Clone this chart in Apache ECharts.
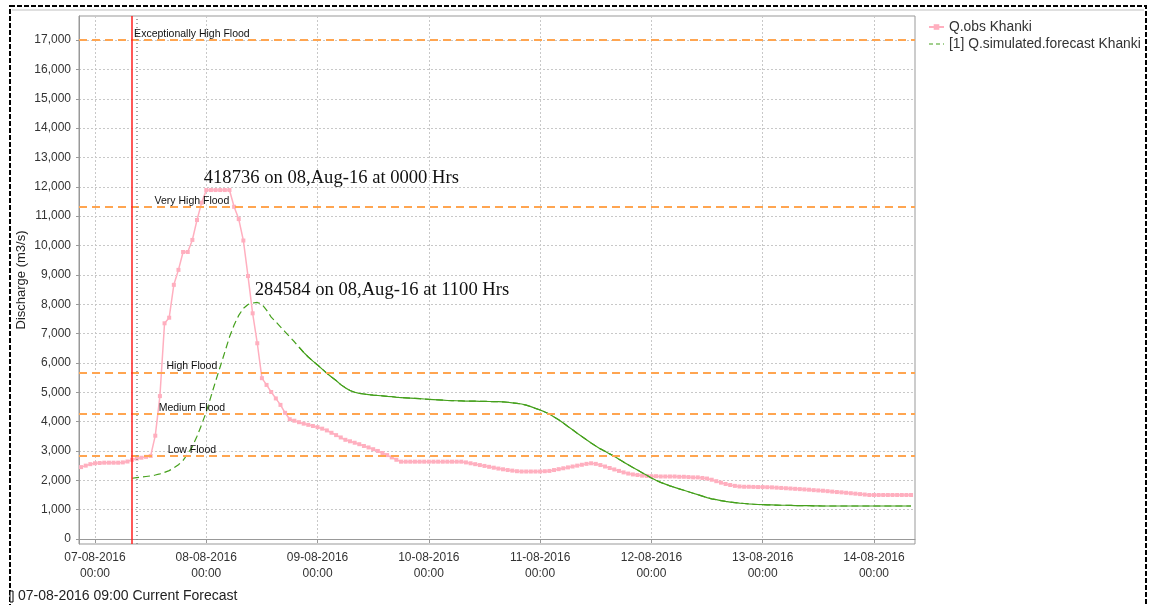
<!DOCTYPE html>
<html>
<head>
<meta charset="utf-8">
<title>Khanki discharge</title>
<script src="https://cdn.jsdelivr.net/npm/echarts@6/dist/echarts.min.js"></script>
<style>
  html, body { margin: 0; padding: 0; background: #fff; }
  #main { width: 1154px; height: 605px; }
</style>
</head>
<body>
<div id="main"></div>
<script>
  // hourly values, hour 0 = 07-08-2016 00:00
  var obsStartHour = -3;
  var obsValues = [
    2450, 2500, 2550,
    2580, 2590, 2600, 2600, 2600, 2600,
    2610, 2640, 2700, 2740, 2770, 2800, 2830,
    3520, 4870, 7350, 7540, 8660, 9170, 9780, 9780, 10190, 10870, 11460, 11890,
    11890, 11890, 11890, 11890, 11890,
    11320, 10900, 10170, 8960, 7690, 6670, 5480, 5250, 5010, 4790, 4570, 4300, 4080,
    4030, 3980, 3930, 3890, 3850, 3810,
    3760, 3700, 3620, 3540, 3460, 3380, 3330, 3280, 3230, 3170, 3120, 3060, 3000, 2930, 2860, 2780, 2700,
    2635, 2635, 2635, 2635, 2635, 2635, 2635, 2635, 2635, 2635, 2635, 2635, 2635, 2635,
    2610, 2580, 2550, 2520, 2490, 2460, 2430, 2400,
    2375, 2350, 2330, 2310,
    2300, 2300, 2300, 2300, 2300, 2310, 2320,
    2350, 2380, 2410, 2440, 2470, 2500, 2530, 2560, 2580,
    2560, 2520, 2470, 2420, 2370, 2320, 2270,
    2230, 2200, 2180, 2160, 2150,
    2140, 2140, 2130, 2130, 2130, 2130, 2120, 2120, 2110, 2100,
    2100, 2080, 2060, 2020, 1970, 1920, 1875, 1840, 1810, 1790,
    1780, 1780, 1775, 1770, 1770, 1765, 1760,
    1750, 1740, 1730, 1720, 1710, 1700, 1690, 1680, 1665, 1655, 1645,
    1630, 1615, 1600, 1590, 1575, 1560, 1545, 1530, 1515, 1500,
    1500, 1500, 1500, 1500, 1500, 1500, 1500, 1500, 1500
  ];

  var fcStartHour = 8;
  var fcValues = [
    2070,
    2090, 2110, 2130, 2150,
    2180, 2220, 2270, 2330,
    2420, 2530, 2680, 2900,
    3150, 3500, 3900, 4330, 4850, 5370, 5870, 6370, 6880, 7290, 7620, 7860, 7990, 8040,
    8060,
    8000, 7800, 7560, 7400, 7230, 7060, 6890, 6720, 6540, 6360, 6200, 6060, 5930,
    5790, 5650, 5520, 5400, 5260, 5150, 5060, 5000, 4960, 4940, 4920, 4900,
    4890, 4880, 4860, 4850, 4830, 4820,
    4810, 4800, 4790, 4780, 4770, 4760, 4750, 4740, 4730, 4720, 4715, 4710,
    4705, 4700, 4700, 4695, 4690, 4690, 4685, 4680, 4680, 4670,
    4660, 4640, 4620, 4600,
    4560, 4510, 4450, 4395, 4330, 4260,
    4160, 4060, 3950, 3830, 3720, 3600, 3490, 3380, 3270, 3170, 3070, 2990, 2900, 2820,
    2720, 2620, 2530, 2440, 2350, 2260, 2170, 2080, 2000, 1930, 1870, 1810, 1760, 1710,
    1660, 1610, 1560, 1510, 1460, 1410, 1370, 1340, 1310, 1280, 1260, 1240, 1220, 1210,
    1195, 1185, 1175, 1170, 1165, 1160,
    1155, 1150, 1150, 1145, 1140, 1140, 1135, 1135, 1130, 1130, 1125,
    1125, 1125, 1125, 1125, 1125, 1125, 1125, 1125, 1125, 1125,
    1125, 1125, 1125, 1125, 1125, 1125, 1125, 1125, 1125
  ];
  var fcSolidFromHour = 44;

  var floodNames = ['Exceptionally High Flood', 'Very High Flood', 'High Flood', 'Medium Flood', 'Low Flood'];
  var floodLevels = [17000, 11310, 5680, 4270, 2830];

  var yTicks = [0, 1000, 2000, 3000, 4000, 5000, 6000, 7000, 8000, 9000, 10000,
                11000, 12000, 13000, 14000, 15000, 16000, 17000];
  var dayTicks = ['2016-08-07', '2016-08-08', '2016-08-09', '2016-08-10',
                  '2016-08-11', '2016-08-12', '2016-08-13', '2016-08-14'];

  var obsPeakHour = 24, obsPeakText = '418736 on 08,Aug-16 at 0000 Hrs';
  var fcPeakHour = 35, fcPeakText = '284584 on 08,Aug-16 at 1100 Hrs';
  var currentForecastHour = 8;
  var issueHour = 9;

  var H = 3600000;
  var t0 = new Date(2016, 7, 7, 0, 0).getTime();
  function hourTime(h) { return t0 + h * H; }
  function pad(n) { return n < 10 ? '0' + n : '' + n; }

  var obsData = obsValues.map(function (v, i) { return [hourTime(obsStartHour + i), v]; });
  var fcData = fcValues.map(function (v, i) { return [hourTime(fcStartHour + i), v]; });
  var fcSolid = fcData.slice(fcSolidFromHour - fcStartHour);
  var dayValues = dayTicks.map(function (d) {
    var p = d.split('-');
    return new Date(+p[0], +p[1] - 1, +p[2], 0, 0).getTime();
  });

  var pink = '#ffafbf';
  var green = '#45a01c';
  var orange = '#ffa550';
  var font = 'Liberation Sans';

  var chart = echarts.init(document.getElementById('main'));
  chart.setOption({
    animation: false,
    backgroundColor: '#fff',
    grid: {
      left: 79, top: 16, right: 239, bottom: 61,
      outerBoundsMode: 'none',
      show: true, borderColor: '#999', borderWidth: 1, backgroundColor: '#fff'
    },
    legend: {
      data: [
        { name: 'Q.obs Khanki' },
        { name: '[1] Q.simulated.forecast Khanki', itemStyle: { opacity: 0 }, lineStyle: { type: [4, 3], width: 1.2 } }
      ],
      orient: 'vertical',
      left: 923, top: 15,
      itemWidth: 15, itemHeight: 7, itemGap: 3,
      textStyle: { fontFamily: font, fontSize: 13.8, color: '#333' }
    },
    xAxis: {
      type: 'value',
      min: hourTime(-3.45),
      max: hourTime(176.85),
      axisLine: { lineStyle: { color: '#999' } },
      axisTick: { show: true, customValues: dayValues, length: 4, lineStyle: { color: '#999' } },
      axisLabel: {
        customValues: dayValues,
        fontFamily: font, fontSize: 12, color: '#333', lineHeight: 16, margin: 6,
        formatter: function (v) {
          var d = new Date(v);
          return pad(d.getDate()) + '-' + pad(d.getMonth() + 1) + '-' + d.getFullYear() +
            '\n' + pad(d.getHours()) + ':' + pad(d.getMinutes());
        }
      },
      splitLine: { show: true, lineStyle: { color: '#c8c8c8', type: [2, 2] } }
    },
    yAxis: {
      type: 'value',
      min: -170,
      max: 17820,
      name: 'Discharge (m3/s)',
      nameLocation: 'middle',
      nameGap: 51,
      nameMoveOverlap: false,
      nameTextStyle: { fontFamily: font, fontSize: 13, color: '#222' },
      axisLine: { show: true, lineStyle: { color: '#999' } },
      axisTick: { show: true, customValues: yTicks, length: 3, lineStyle: { color: '#999' } },
      axisLabel: {
        customValues: yTicks,
        fontFamily: font, fontSize: 12, color: '#333', margin: 8,
        formatter: function (v) { return v.toLocaleString('en-US'); }
      },
      splitLine: { show: true, lineStyle: { color: '#c8c8c8', type: [2, 2] } }
    },
    series: [
      {
        name: 'Q.obs Khanki',
        type: 'line',
        data: obsData,
        color: pink,
        symbol: 'rect',
        symbolSize: 4,
        showAllSymbol: true,
        lineStyle: { width: 1.5, color: pink },
        z: 3,
        markLine: {
          silent: true,
          symbol: ['none', 'none'],
          label: { show: false },
          lineStyle: { color: orange, type: [8, 5], width: 2 },
          data: floodLevels.map(function (v) { return { yAxis: v }; })
            .concat([
              { xAxis: hourTime(issueHour), lineStyle: { color: '#888', type: [1, 3], width: 1.5 } },
              { xAxis: hourTime(currentForecastHour), lineStyle: { color: '#ff2020', type: 'solid', width: 1.5 } }
            ])
        },
        markPoint: {
          silent: true,
          symbol: 'circle',
          symbolSize: 1,
          itemStyle: { color: 'transparent' },
          data: floodLevels.map(function (v, i) {
            return {
              coord: [hourTime(20.9), v],
              label: {
                show: true, position: 'top', distance: 0,
                formatter: floodNames[i],
                fontFamily: font, fontSize: 10.5, color: '#111'
              }
            };
          }).concat([{
            coord: [hourTime(obsPeakHour), obsValues[obsPeakHour - obsStartHour]],
            label: {
              show: true, position: [-2, -21], align: 'left', verticalAlign: 'top',
              formatter: obsPeakText,
              fontFamily: 'Liberation Serif', fontSize: 18.6, color: '#111'
            }
          }])
        }
      },
      {
        name: '[1] Q.simulated.forecast Khanki',
        type: 'line',
        data: fcData,
        color: green,
        symbol: 'none',
        lineStyle: { width: 1.2, color: green, type: [7, 4] },
        z: 4,
        markPoint: {
          silent: true,
          symbol: 'circle',
          symbolSize: 1,
          itemStyle: { color: 'transparent' },
          data: [{
            coord: [hourTime(fcPeakHour), fcValues[fcPeakHour - fcStartHour]],
            label: {
              show: true, position: [-2, -21], align: 'left', verticalAlign: 'top',
              formatter: fcPeakText,
              fontFamily: 'Liberation Serif', fontSize: 18.6, color: '#111'
            }
          }]
        }
      },
      {
        name: 'forecast-solid',
        type: 'line',
        data: fcSolid,
        color: green,
        symbol: 'none',
        lineStyle: { width: 1.2, color: green },
        z: 4
      }
    ],
    graphic: [
      {
        type: 'rect', silent: true, z: 100,
        shape: { x: 10, y: 6, width: 1136, height: 660 },
        style: { fill: 'none', stroke: '#000', lineWidth: 2, lineDash: [5, 2] }
      },
      {
        type: 'line', silent: true, z: 100,
        shape: { x1: 12, y1: 10, x2: 1144, y2: 10 },
        style: { stroke: '#c0c0c0', lineWidth: 1 }
      },
      {
        type: 'rect', silent: true, z: 101,
        shape: { x: 10, y: 591, width: 3, height: 11 },
        style: { fill: '#fff', stroke: '#000', lineWidth: 1 }
      },
      {
        type: 'text', silent: true, z: 101,
        left: 18, top: 589,
        style: { text: '07-08-2016 09:00 Current Forecast', font: '14px "Liberation Sans"', fill: '#222' }
      }
    ]
  });
</script>
</body>
</html>
